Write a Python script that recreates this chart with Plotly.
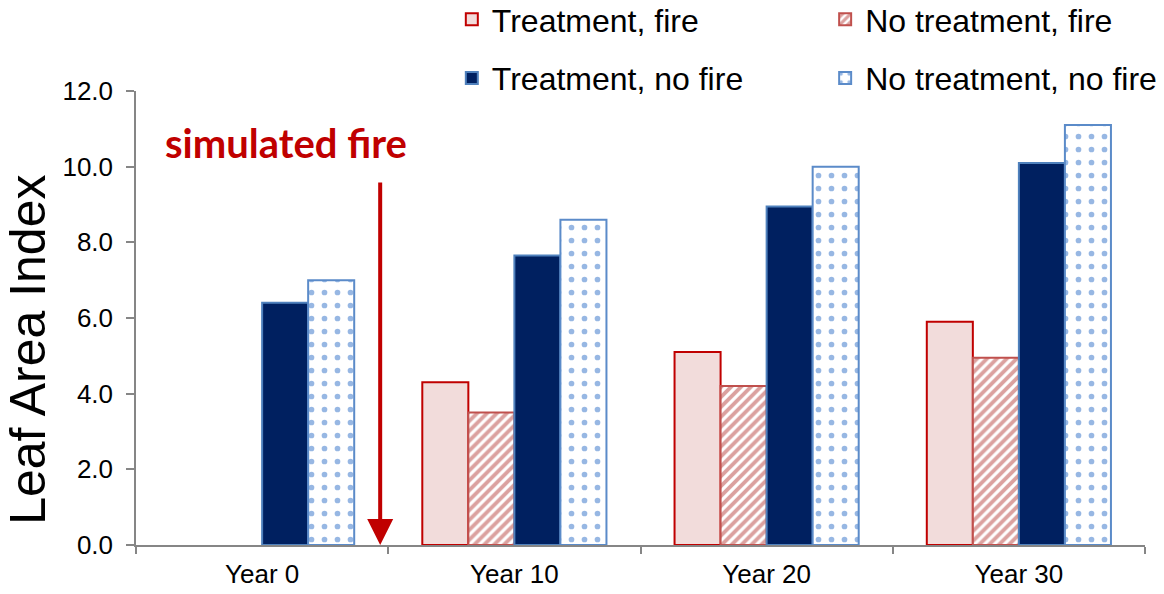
import plotly.graph_objects as go

# Leaf area index by year and scenario
years = ["Year 0", "Year 10", "Year 20", "Year 30"]
treat_fire = [None, 4.3, 5.1, 5.9]
notreat_fire = [None, 3.5, 4.2, 4.95]
treat_nofire = [6.4, 7.65, 8.95, 10.1]
notreat_nofire = [7.0, 8.6, 10.0, 11.1]

FONT = "Liberation Sans, Arial, sans-serif"

fig = go.Figure()

fig.add_trace(go.Bar(
    x=years, y=treat_fire, name="Treatment, fire",
    legend="legend", legendgroup="a",
    marker=dict(color="#F2DCDB", line=dict(color="#C00000", width=2)),
))
fig.add_trace(go.Bar(
    x=years, y=notreat_fire, name="No treatment, fire",
    legend="legend2", legendgroup="b",
    marker=dict(color="white", line=dict(color="#C0504D", width=2),
                pattern=dict(shape="/", fgcolor="#B8433F", bgcolor="white",
                             size=7, solidity=0.55)),
))
fig.add_trace(go.Bar(
    x=years, y=treat_nofire, name="Treatment, no fire",
    legend="legend", legendgroup="c",
    marker=dict(color="#002060", line=dict(color="#4F81BD", width=2)),
))
fig.add_trace(go.Bar(
    x=years, y=notreat_nofire, name="No treatment, no fire",
    legend="legend2", legendgroup="d",
    marker=dict(color="white", line=dict(color="#5B8BC9", width=2),
                pattern=dict(shape=".", fgcolor="#2F6FC8", bgcolor="white",
                             size=13, solidity=0.15)),
))

legend_common = dict(
    font=dict(family=FONT, size=32, color="black"),
    orientation="v", yanchor="top", xanchor="left",
    tracegroupgap=14, bgcolor="rgba(0,0,0,0)", itemclick=False,
)

fig.update_layout(
    width=1164, height=594,
    margin=dict(l=136, r=19, t=91, b=49, autoexpand=False),
    paper_bgcolor="white", plot_bgcolor="white",
    barmode="group", bargap=0.27, bargroupgap=0,
    font=dict(family=FONT, color="black"),
    legend=dict(x=0.313, y=1.218, **legend_common),
    legend2=dict(x=0.683, y=1.218, **legend_common),
    xaxis=dict(
        type="category", showline=True, linecolor="#868686", linewidth=2,
        ticks="outside", tickson="boundaries", ticklen=7, tickcolor="#868686",
        tickwidth=1.5, tickfont=dict(size=26, family=FONT, color="black"),
        ticklabelstandoff=5,
        showgrid=False, zeroline=False,
    ),
    yaxis=dict(
        range=[0, 12], dtick=2, tickformat=".1f",
        showline=True, linecolor="#868686", linewidth=1.5,
        ticks="outside", ticklen=8, tickcolor="#868686", tickwidth=1.5,
        tickfont=dict(size=26, family=FONT, color="black"),
        ticklabelstandoff=8,
        showgrid=False, zeroline=False,
    ),
    annotations=[
        dict(text="Leaf Area Index", textangle=-90, xref="paper", yref="paper",
             x=-0.107, y=0.43, xanchor="center", yanchor="middle", showarrow=False,
             font=dict(size=50, family=FONT, color="black")),
        dict(text="<b>simulated fire</b>", xref="x", yref="y", x=0.095, y=10.62,
             xanchor="center", yanchor="middle", showarrow=False,
             font=dict(size=40, family="Lato, Open Sans, sans-serif", color="#C00000")),
        dict(text="", xref="x", yref="y", x=0.468, y=0.0,
             axref="x", ayref="y", ax=0.468, ay=9.62,
             showarrow=True, arrowhead=2, arrowsize=1.3, arrowwidth=4,
             arrowcolor="#C00000", standoff=0),
    ],
)

fig.write_html("out.html")
